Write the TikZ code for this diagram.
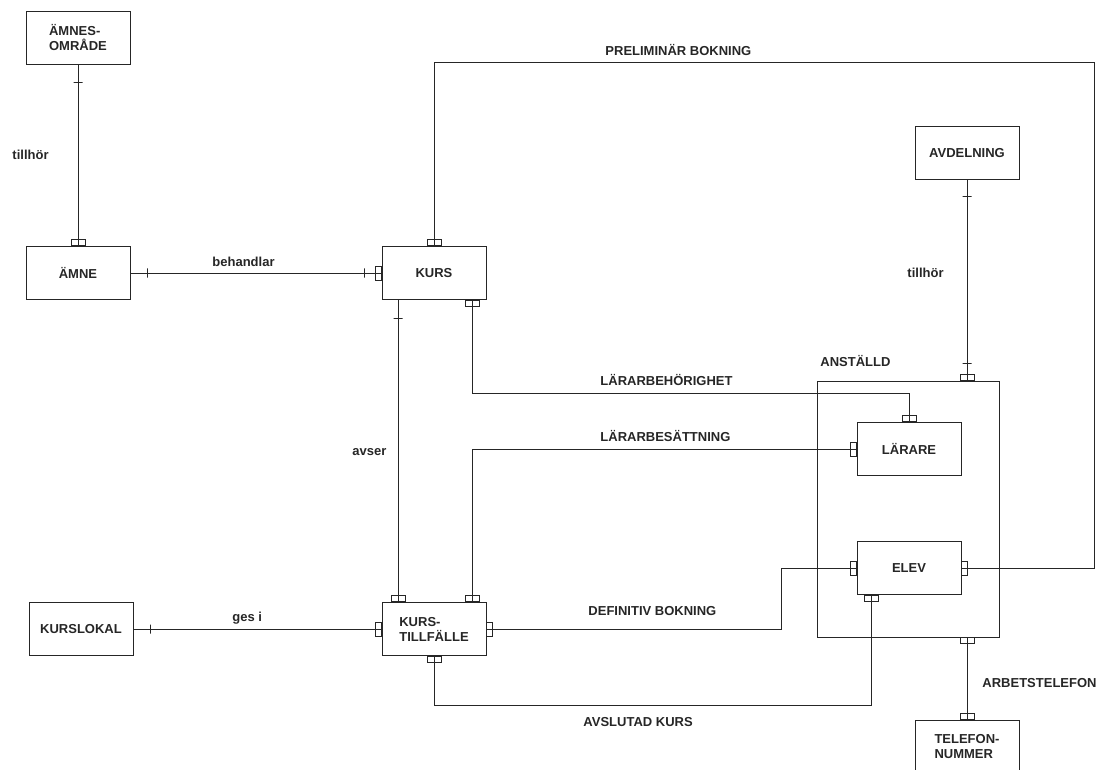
\documentclass[tikz,border=0pt]{standalone}
\usepackage{fontspec}
\setmainfont{Liberation Sans}
\definecolor{ink}{gray}{0.15}
\begin{document}
\begin{tikzpicture}[x=1pt,y=-1pt,line width=0.9pt,color=ink,
		every node/.style={font=\fontsize{13}{15}\selectfont\bfseries},
		entity/.style={draw,minimum width=104pt,minimum height=53pt,inner sep=2pt},
		hport/.style={draw,inner sep=0pt,minimum width=14pt,minimum height=6pt},
		vport/.style={draw,inner sep=0pt,minimum width=6pt,minimum height=14pt},
		hbar/.style={draw,inner sep=0pt,minimum width=9pt,minimum height=0pt},
		vbar/.style={draw,inner sep=0pt,minimum width=0pt,minimum height=9pt},
		lbl/.style={anchor=west,inner sep=0pt}]
				\useasboundingbox (0,0) rectangle (1106,770);

				% entities
				\node[entity,align=left] (omrade) at (78,37.5) {ÄMNES-\\OMRÅDE};
				\node[entity] (amne) at (78,273) {ÄMNE};
				\node[entity] (kurs) at (434,273) {KURS};
				\node[entity,align=left] (tillfalle) at (434,629) {KURS-\\TILLFÄLLE};
				\node[entity] (lokal) at (81,629) {KURSLOKAL};
				\node[entity] (avdelning) at (967,153) {AVDELNING};
				\node[draw,minimum width=182pt,minimum height=256pt] (anstalld) at (908,509) {};
				\node[entity] (larare) at (909,449) {LÄRARE};
				\node[entity] (elev) at (909,568) {ELEV};
				\node[entity,align=left] (telefon) at (967,746.5) {TELEFON-\\NUMMER};
				\coordinate (prelim) at (1094,62);
				\coordinate (avslut) at (871,705);

				% relations
				\draw (omrade.south) -- (amne.north);
				\draw (amne.east) -- (kurs.west);
				\draw (kurs.north) |- (prelim) |- (elev.east);
				\draw ([xshift=-36pt]kurs.south) -- ([xshift=-36pt]tillfalle.north);
				\draw ([xshift=38pt]kurs.south) |- ([yshift=29pt]larare.north) -- (larare.north);
				\draw ([xshift=38pt]tillfalle.north) |- (larare.west);
				\draw (lokal.east) -- (tillfalle.west);
				\draw (tillfalle.east) -| ([xshift=-75pt]elev.west) -- (elev.west);
				\draw (tillfalle.south) |- (avslut) -- ([xshift=-38pt]elev.south);
				\draw (avdelning.south) -- ([xshift=59pt]anstalld.north);
				\draw ([xshift=59pt]anstalld.south) -- (telefon.north);

				% ends
				\node[hbar] (omradeB) at ([yshift=-18pt]omrade.south) {};
				\node[hport,anchor=south] (amneN) at (amne.north) {};
				\node[vbar] (amneB) at ([xshift=17pt]amne.east) {};
				\node[vbar] (kursB) at ([xshift=-17pt]kurs.west) {};
				\node[vport,anchor=east] (kursW) at (kurs.west) {};
				\node[hport,anchor=south] (kursN) at (kurs.north) {};
				\node[vport,anchor=west] (elevE) at (elev.east) {};
				\node[hbar] (kursSB) at ([xshift=-36pt,yshift=-18pt]kurs.south) {};
				\node[hport,anchor=south] (tillfalleNW) at ([xshift=-36pt]tillfalle.north) {};
				\node[hport,anchor=north] (kursSE) at ([xshift=38pt]kurs.south) {};
				\node[hport,anchor=south] (larareN) at (larare.north) {};
				\node[hport,anchor=south] (tillfalleNE) at ([xshift=38pt]tillfalle.north) {};
				\node[vport,anchor=east] (larareW) at (larare.west) {};
				\node[vbar] (lokalB) at ([xshift=17pt]lokal.east) {};
				\node[vport,anchor=east] (tillfalleW) at (tillfalle.west) {};
				\node[vport,anchor=west] (tillfalleE) at (tillfalle.east) {};
				\node[vport,anchor=east] (elevW) at (elev.west) {};
				\node[hport,anchor=north] (tillfalleS) at (tillfalle.south) {};
				\node[hport,anchor=north] (elevS) at ([xshift=-38pt]elev.south) {};
				\node[hbar] (avdelningB) at ([yshift=-17pt]avdelning.south) {};
				\node[hbar] (anstalldB) at ([xshift=59pt,yshift=17pt]anstalld.north) {};
				\node[hport,anchor=south] (anstalldN) at ([xshift=59pt]anstalld.north) {};
				\node[hport,anchor=north] (anstalldS) at ([xshift=59pt]anstalld.south) {};
				\node[hport,anchor=south] (telefonN) at (telefon.north) {};

				% labels
				\node[lbl] (tillhor1) at (12,155) {tillhör};
				\node[lbl] (behandlar) at (212,262) {behandlar};
				\node[lbl] (preliminar) at (605,50) {PRELIMINÄR BOKNING};
				\node[lbl] (tillhor2) at (907,273) {tillhör};
				\node[lbl] (anstlbl) at (820,361) {ANSTÄLLD};
				\node[lbl] (behorighet) at (600,380) {LÄRARBEHÖRIGHET};
				\node[lbl] (besattning) at (600,436) {LÄRARBESÄTTNING};
				\node[lbl] (avser) at (352,452) {avser};
				\node[lbl] (gesi) at (232,618) {ges i};
				\node[lbl] (definitiv) at (588,611) {DEFINITIV BOKNING};
				\node[lbl] (avslutad) at (583,722) {AVSLUTAD KURS};
				\node[lbl] (arbetstel) at (982,683) {ARBETSTELEFON};
			\end{tikzpicture}
\end{document}
